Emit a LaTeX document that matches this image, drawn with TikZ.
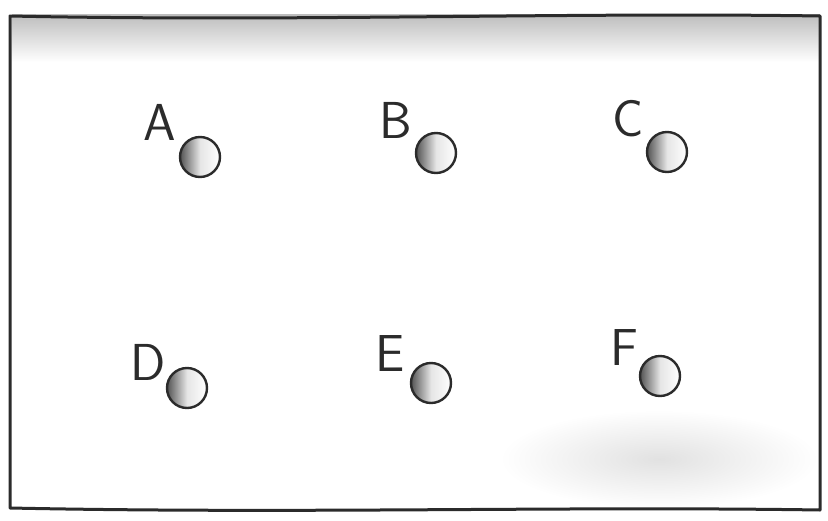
\documentclass[tikz,border=0pt]{standalone}
\usepackage{xcolor}
\usepackage{tikz}
\usetikzlibrary{positioning}
\definecolor{pencil}{HTML}{2B2B2B}
\definecolor{smudge}{HTML}{BDBDBD}

\begin{document}
\begin{tikzpicture}[
  x=1pt, y=-1pt,
  ball/.style   = {circle, draw=pencil, line width=2.4pt, minimum size=40pt, inner sep=0pt, left color=gray!65!black, right color=white, middle color=white!80!gray},
  letter/.style = {font=\fontsize{52}{52}\selectfont\sffamily, text=pencil, inner sep=0pt},
  frame/.style  = {draw=pencil, line width=3pt, line join=round},
]
\useasboundingbox (0,0) rectangle (828,520);
% paper smudges
\shade[top color=smudge, bottom color=white] (12,14) rectangle (820,62);
\shade[inner color=smudge!45, outer color=white] (500,410) rectangle (818,508);
% the sheet
\draw[frame] (10,16) .. controls (300,22) and (560,12) .. (820,16) -- (820,510) .. controls (560,506) and (300,514) .. (10,508) -- cycle;
% top row
\node[ball] (ballA) at (200,157) {};
\node[letter] (lblA) at (160,122) {A};
\node[ball] (ballB) at (436,153) {};
\node[letter] (lblB) at (396,120) {B};
\node[ball] (ballC) at (667,152) {};
\node[letter] (lblC) at (628,119) {C};
% bottom row
\node[ball] (ballD) at (187,388) {};
\node[letter] (lblD) at (148,362) {D};
\node[ball] (ballE) at (431,383) {};
\node[letter] (lblE) at (390,354) {E};
\node[ball] (ballF) at (660,376) {};
\node[letter] (lblF) at (624,348) {F};
\end{tikzpicture}
\end{document}
